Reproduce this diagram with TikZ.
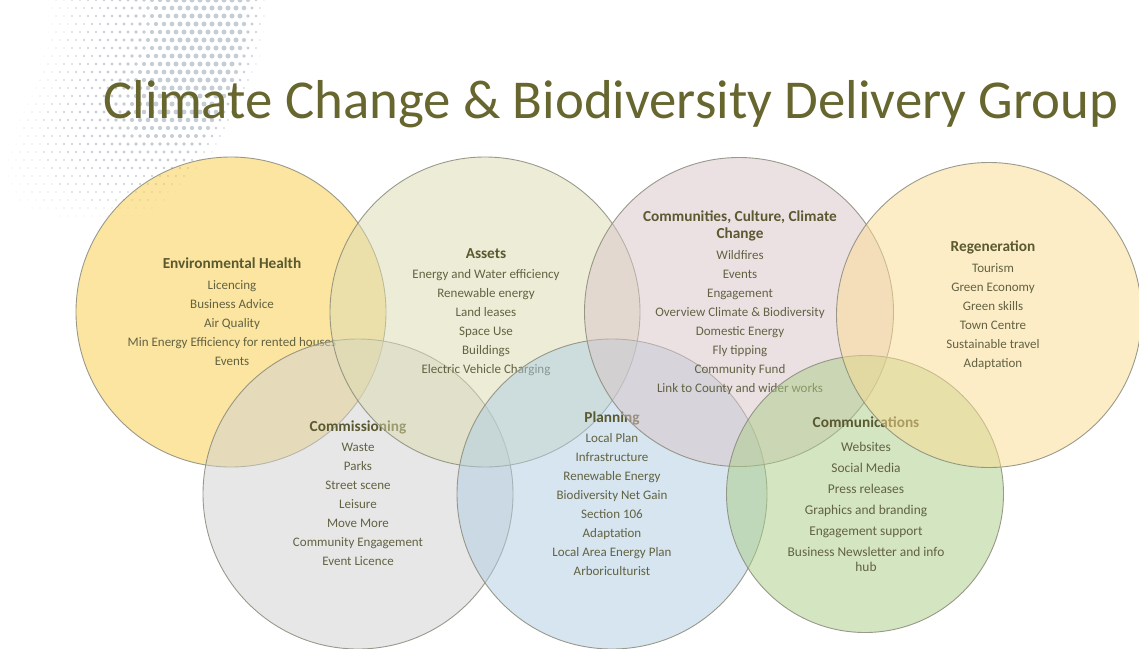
\documentclass[tikz,border=0pt]{standalone}
\usepackage{fontspec}
\setmainfont{Carlito}
\definecolor{titlecol}{HTML}{67662F}
\definecolor{headcol}{HTML}{5A5930}
\definecolor{itemcol}{HTML}{626242}
\definecolor{edgecol}{HTML}{8A8A7A}
\definecolor{dotcol}{HTML}{C4CED4}
\definecolor{cEH}{HTML}{F9CD45}
\definecolor{cAS}{HTML}{DDDDB1}
\definecolor{cCC}{HTML}{D9C5C9}
\definecolor{cRG}{HTML}{FBDD91}
\definecolor{cCM}{HTML}{D1D1D1}
\definecolor{cPL}{HTML}{AFCDE1}
\definecolor{cCO}{HTML}{ABCD87}
\tikzset{
  bubble/.style={circle, inner sep=0pt, outer sep=0pt, minimum size=#1, draw=edgecol, draw opacity=0.85, line width=0.9pt, fill opacity=0.5},
  block/.style={anchor=north, align=center, inner sep=0pt, text=itemcol, font=\fontsize{13}{19}\selectfont},
}
\newcommand{\hd}[1]{{\bfseries\color{headcol}\fontsize{15.3}{19}\selectfont #1}}
\begin{document}
\begin{tikzpicture}[x=1pt,y=-1pt]
\useasboundingbox (0,0) rectangle (1139,648);
\fill[white] (0,0) rectangle (1139,648);
% halftone dots
\foreach \j in {0,...,29}{
  \foreach \i in {0,...,35}{
    \pgfmathsetmacro\xx{\i*8+mod(\j,2)*4}
    \pgfmathsetmacro\yy{\j*8}
    \pgfmathsetmacro\xe{272-0.0022*\yy*\yy}
    \pgfmathsetmacro\uu{\xe-\xx}
    \pgfmathsetmacro\rr{\uu<0 ? 0 : 2.5*min(1,\uu/30)*max(0,1-max(0,\uu-90)/160)*(1-max(0,\yy-110)/130)}
    \ifdim\rr pt>0.4pt \fill[dotcol] (\xx,\yy) circle[radius=\rr]; \fi
  }
}
% title
\node[anchor=base, text=titlecol, font=\fontsize{54.8}{60}\selectfont, inner sep=0pt] (title) at (611,118) {Climate Change \& Biodiversity Delivery Group};
% Environmental Health
\node[bubble=310pt, fill=cEH] (eh) at (231,312) {};
\node[block] (ehT) at (232,258) {\hd{Environmental Health}\\[2pt]Licencing\\Business Advice\\Air Quality\\Min Energy Efficiency for rented houses\\Events};
% Commissioning
\node[bubble=310pt, fill=cCM] (comm) at (358,494) {};
\node[block] (commT) at (358,421) {\hd{Commissioning}\\[1pt]Waste\\Parks\\Street scene\\Leisure\\Move More\\Community Engagement\\Event Licence};
% Assets
\node[bubble=310pt, fill=cAS] (assets) at (485,312) {};
\node[block] (assetsT) at (486,248) {\hd{Assets}\\[1pt]Energy and Water efficiency\\Renewable energy\\Land leases\\Space Use\\Buildings\\Electric Vehicle Charging};
% Planning
\node[bubble=310pt, fill=cPL] (plan) at (612,494) {};
\node[block] (planT) at (612,412) {\hd{Planning}\\[1pt]Local Plan\\Infrastructure\\Renewable Energy\\Biodiversity Net Gain\\Section 106\\Adaptation\\Local Area Energy Plan\\Arboriculturist};
% Communities
\node[bubble=309pt, fill=cCC] (ccc) at (739,312) {};
\node[block] (cccT) at (740,211) {\hd{Communities, Culture, Climate}\\[-2pt]\hd{Change}\\[2pt]Wildfires\\Events\\Engagement\\Overview Climate \& Biodiversity\\Domestic Energy\\Fly tipping\\Community Fund\\Link to County and wider works};
% Communications
\node[bubble=277pt, fill=cCO] (commu) at (865,494) {};
\node[block, font=\fontsize{13.4}{21}\selectfont] (commuT) at (866,417) {\hd{Communications}\\[3pt]Websites\\Social Media\\Press releases\\Graphics and branding\\Engagement support\\Business Newsletter and info\\[-6pt]hub};
% Regeneration
\node[bubble=305pt, fill=cRG] (regen) at (989,315) {};
\node[block] (regenT) at (993,241) {\hd{Regeneration}\\[2pt]Tourism\\Green Economy\\Green skills\\Town Centre\\Sustainable travel\\Adaptation};
\end{tikzpicture}
\end{document}
